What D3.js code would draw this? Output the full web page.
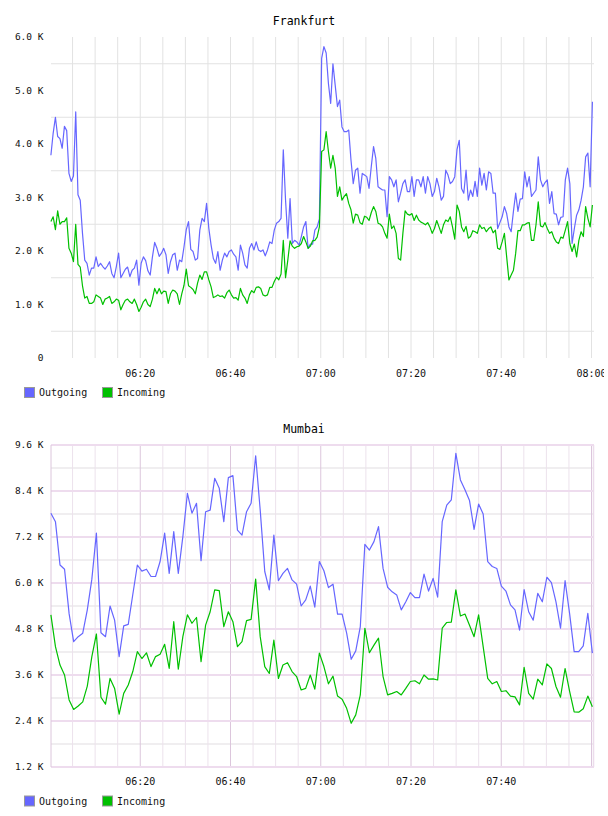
<!DOCTYPE html>
<html>
<head>
<meta charset="utf-8">
<script src="https://cdn.jsdelivr.net/npm/d3@7"></script>
<style>
  body { margin: 0; background: #ffffff; }
  svg text { font-family: 'DejaVu Sans Mono', monospace; fill: #111; }
</style>
</head>
<body>
<div id="graf"></div>
<script>
// !DATOS (valores en miles)
const inicio = new Date(2000, 0, 1, 6, 0, 12)
const series = ['Outgoing', 'Incoming']
const colores = ['#6666ff', '#00c000']

// Frankfurt: una muestra cada 30 s
const pasoFrankfurt = 30
const frankfurtSalida = [
  3.79, 4.2, 4.5, 4.14, 4.1, 3.92, 4.33, 4.25, 3.45, 3.3,
  3.4, 4.6, 3.05, 2.95, 2.33, 1.83, 1.77, 1.55, 1.68, 1.68,
  1.89, 1.71, 1.77, 1.71, 1.66, 1.72, 1.8, 1.58, 1.5, 1.71,
  1.96, 1.5, 1.58, 1.66, 1.7, 1.52, 1.64, 1.68, 1.83, 1.36,
  1.77, 1.89, 1.82, 1.63, 1.55, 1.89, 2.16, 2.05, 1.9, 1.96,
  2.05, 1.93, 1.58, 1.8, 1.93, 1.96, 1.64, 1.83, 1.8, 2.08,
  2.4, 2.55, 2.03, 1.99, 1.83, 1.86, 2.39, 2.61, 2.55, 2.89,
  2.42, 2.11, 1.86, 1.77, 1.99, 1.64, 1.83, 1.96, 1.89, 1.99,
  2.02, 1.94, 1.89, 1.64, 2.11, 1.96, 1.74, 1.68, 2.05, 2.14,
  2.02, 2.17, 2.02, 1.99, 2.02, 1.91, 2.02, 2.17, 2.14, 2.39,
  2.52, 2.55, 2.61, 3.89, 2.95, 2.24, 2.98, 2.14, 2.2, 2.17,
  2.11, 2.27, 2.45, 2.55, 2.05, 2.13, 2.13, 2.39, 2.45, 2.6,
  5.6, 5.82, 5.7, 5.13, 4.76, 5.5, 5.1, 4.7, 4.82, 4.32,
  4.23, 4.23, 4.26, 3.7, 3.26, 3.51, 3.55, 3.08, 3.45, 3.42,
  3.39, 3.17, 3.58, 3.95, 3.73, 3.2, 3.17, 3.14, 3.14, 2.64,
  3.39, 3.33, 3.2, 3.33, 2.92, 3.08, 3.26, 3.33, 3.11, 3.11,
  3.39, 3.02, 3.33, 3.33, 3.2, 3.39, 3.08, 3.39, 3.26, 3.02,
  3.11, 3.36, 3.2, 2.95, 3.02, 3.51, 3.42, 3.26, 3.3, 3.39,
  3.9, 4.07, 3.17, 3.08, 3.51, 2.95, 3.14, 3.02, 3.3, 3.02,
  3.55, 3.23, 3.45, 3.14, 3.48, 3.45, 3.08, 3.08, 2.42, 2.53,
  2.64, 2.83, 2.7, 2.45, 2.36, 2.74, 3.08, 2.74, 2.97, 2.98,
  3.48, 3.2, 3.39, 3.02, 3.08, 3.14, 3.76, 3.33, 3.2, 3.28,
  3.33, 2.89, 3.11, 2.7, 2.69, 2.49, 2.63, 2.64, 3.33, 3.55,
  3.26, 2.14, 2.42, 2.67, 2.77, 2.95, 3.2, 3.76, 3.83, 3.2,
  4.79,
]
const frankfurtEntrada = [
  2.55, 2.64, 2.4, 2.75, 2.5, 2.55, 2.55, 2.62, 2.05, 1.96,
  1.8, 2.5, 1.75, 1.7, 1.35, 1.12, 1.15, 1.02, 1.02, 1.05,
  1.18, 1.15, 1.12, 1.0, 1.1, 1.12, 1.15, 1.02, 1.05, 1.1,
  1.08, 0.9, 1.0, 1.08, 1.1, 1.05, 1.02, 1.1, 1.0, 0.87,
  0.95, 1.05, 1.1, 1.0, 0.96, 1.1, 1.3, 1.2, 1.3, 1.2,
  1.25, 1.24, 1.02, 1.2, 1.27, 1.25, 1.2, 1.0, 1.2, 1.36,
  1.66, 1.35, 1.32, 1.28, 1.2, 1.4, 1.55, 1.47, 1.61, 1.61,
  1.46, 1.33, 1.13, 1.15, 1.18, 1.15, 1.16, 1.12, 1.22, 1.27,
  1.18, 1.12, 1.13, 1.08, 1.3, 1.18, 1.12, 1.02, 1.18, 1.26,
  1.22, 1.32, 1.33, 1.3, 1.18, 1.16, 1.18, 1.32, 1.32, 1.43,
  1.51, 1.46, 1.57, 2.2, 1.5, 1.83, 2.19, 2.09, 2.05, 2.08,
  2.09, 2.14, 2.27, 2.17, 2.05, 2.09, 2.19, 2.2, 2.26, 2.45,
  3.86, 3.89, 4.23, 3.86, 3.55, 3.79, 3.55, 3.02, 3.2, 2.95,
  3.02, 3.07, 2.89, 2.77, 2.52, 2.69, 2.67, 2.53, 2.5, 2.65,
  2.63, 2.57, 2.72, 2.83, 2.74, 2.52, 2.5, 2.45, 2.33, 2.24,
  2.69, 2.42, 2.47, 2.33, 1.86, 1.83, 2.33, 2.75, 2.69, 2.67,
  2.7, 2.57, 2.67, 2.58, 2.54, 2.52, 2.49, 2.53, 2.45, 2.33,
  2.42, 2.57, 2.45, 2.33, 2.49, 2.58, 2.55, 2.64, 2.45, 2.22,
  2.86, 2.74, 2.45, 2.36, 2.46, 2.24, 2.27, 2.38, 2.36, 2.33,
  2.49, 2.42, 2.44, 2.36, 2.42, 2.45, 2.34, 2.39, 2.05, 2.03,
  2.17, 2.33, 1.89, 1.46, 1.55, 1.64, 1.96, 2.38, 2.38, 2.49,
  2.49, 2.52, 2.53, 2.2, 2.2, 2.49, 2.92, 2.47, 2.45, 2.53,
  2.42, 2.33, 2.36, 2.24, 2.17, 2.14, 2.26, 2.24, 2.39, 2.55,
  2.14, 1.99, 2.13, 1.89, 2.2, 2.36, 2.27, 2.83, 2.61, 2.45,
  2.86,
]

// Mumbai: una muestra por minuto (aprox.)
const pasoMumbai = 60.5
const mumbaiSalida = [
  7.82, 7.6, 6.47, 6.36, 5.2, 4.47, 4.6, 4.69, 5.3, 6.1,
  7.3, 4.7, 4.6, 5.4, 5.03, 4.08, 4.88, 4.92, 5.7, 6.47,
  6.31, 6.36, 6.17, 6.17, 6.56, 7.3, 6.25, 7.34, 6.25, 7.21,
  8.34, 7.82, 8.08, 6.58, 7.86, 7.9, 8.73, 8.47, 7.6, 8.75,
  8.8, 7.38, 7.25, 7.86, 8.08, 9.32, 7.9, 6.3, 5.82, 7.25,
  6.06, 6.25, 6.38, 6.08, 5.97, 5.4, 5.56, 5.92, 5.37, 6.56,
  6.32, 5.88, 5.97, 5.19, 5.19, 4.69, 4.01, 4.23, 4.86, 7.01,
  6.86, 7.08, 7.47, 6.38, 5.89, 5.77, 5.69, 5.3, 5.51, 5.75,
  5.62, 5.62, 6.23, 5.79, 6.12, 5.63, 7.6, 8.03, 8.17, 9.38,
  8.69, 8.43, 8.15, 7.4, 8.06, 7.8, 6.56, 6.43, 6.38, 5.92,
  5.79, 5.43, 5.3, 4.77, 5.83, 5.25, 5.03, 5.73, 5.51, 6.15,
  6.01, 5.51, 4.82, 6.06, 5.2, 4.21, 4.21, 4.36, 5.21, 4.17,
]
const mumbaiEntrada = [
  5.17, 4.34, 3.86, 3.6, 2.95, 2.7, 2.79, 2.9, 3.31, 4.08,
  4.67, 3.02, 2.84, 3.51, 3.25, 2.58, 3.12, 3.34, 3.69, 4.21,
  4.03, 4.18, 3.82, 4.08, 4.14, 4.4, 3.77, 4.99, 3.75, 4.6,
  5.17, 4.95, 5.1, 3.95, 4.9, 5.25, 5.82, 5.8, 4.86, 5.25,
  4.99, 4.34, 4.47, 5.02, 5.05, 6.1, 4.6, 3.82, 3.64, 4.51,
  3.51, 3.86, 3.92, 3.69, 3.56, 3.21, 3.25, 3.6, 3.23, 4.17,
  3.82, 3.37, 3.57, 3.05, 2.97, 2.73, 2.34, 2.56, 3.08, 4.82,
  4.18, 4.38, 4.56, 3.56, 3.08, 3.12, 3.17, 3.08, 3.25, 3.43,
  3.45, 3.37, 3.6, 3.49, 3.5, 3.47, 4.82, 4.97, 4.98, 5.82,
  5.14, 5.19, 4.9, 4.6, 5.17, 4.34, 3.51, 3.37, 3.43, 3.17,
  3.19, 3.05, 3.03, 2.82, 3.8, 3.12, 2.97, 3.49, 3.34, 3.89,
  3.77, 3.3, 3.02, 3.77, 3.17, 2.64, 2.63, 2.72, 3.05, 2.77,
]

// !EJES
const ticksFrankfurt = [0, 1, 2, 3, 4, 5, 6]
const rejillaFrankfurt = [0.5, 1.5, 2.5, 3.5, 4.5, 5.5]
const ticksMumbai = [1.2, 2.4, 3.6, 4.8, 6.0, 7.2, 8.4, 9.6]
const rejillaMumbai = [1.8, 3.0, 4.2, 5.4, 6.6, 7.8, 9.0]
const horasFrankfurt = ['06:20', '06:40', '07:00', '07:20', '07:40', '08:00']
const horasMumbai = ['06:20', '06:40', '07:00', '07:20', '07:40']

const anchoTotal = 604
const altoTotal = 816

const svg = d3
  .select('#graf')
  .append('svg')
  .attr('width', anchoTotal)
  .attr('height', altoTotal)

const dia = (h, m, s = 0) => new Date(2000, 0, 1, h, m, s)
const parseHora = d3.timeParse('%H:%M')
const aDia = (txt) => {
  const d = parseHora(txt)
  return dia(d.getHours(), d.getMinutes())
}

// !ESCALADOR X (compartido)
const x = d3.scaleTime().domain([dia(6, 0), dia(8, 0)]).range([50, 591.5])
const cincoMin = d3.timeMinute.every(5).range(dia(6, 5), dia(8, 0, 1))

const izq = 51
const der = 594

function puntos(valores, paso) {
  return valores.map((v, i) => ({
    t: new Date(inicio.getTime() + i * paso * 1000),
    v: v,
  }))
}

function dibujaPanel(p) {
  const y = d3.scaleLinear().domain(p.dominio).range([p.abajo, p.arriba])
  const g = svg.append('g')

  // !TITULO
  g.append('text')
    .attr('x', 304)
    .attr('y', p.tituloY)
    .attr('text-anchor', 'middle')
    .style('font-size', '11.5px')
    .style('fill', '#000')
    .text(p.titulo)

  // !REJILLA
  g.selectAll('.hmenor')
    .data(p.rejilla)
    .join('line')
    .attr('x1', izq)
    .attr('x2', der)
    .attr('y1', (d) => y(d))
    .attr('y2', (d) => y(d))
    .attr('stroke', p.rosa ? '#f0eef0' : '#e2e2e2')
    .attr('stroke-width', p.rosa ? 2 : 1)

  g.selectAll('.vlin')
    .data(cincoMin)
    .join('line')
    .attr('x1', (d) => x(d))
    .attr('x2', (d) => x(d))
    .attr('y1', p.arriba)
    .attr('y2', p.abajo)
    .attr('stroke', (d) => {
      if (!p.rosa) return '#e2e2e2'
      return d.getMinutes() % 20 === 0 ? '#dcc6dc' : '#ece2ec'
    })
    .attr('stroke-width', 1)

  if (p.rosa) {
    g.selectAll('.hmayor')
      .data(p.ticks)
      .join('line')
      .attr('x1', izq)
      .attr('x2', der)
      .attr('y1', (d) => y(d))
      .attr('y2', (d) => y(d))
      .attr('stroke', '#eedcee')
      .attr('stroke-width', 2)

    g.append('line')
      .attr('x1', izq)
      .attr('x2', izq)
      .attr('y1', p.arriba)
      .attr('y2', p.abajo)
      .attr('stroke', '#dcc6dc')
    g.append('line')
      .attr('x1', der - 0.5)
      .attr('x2', der - 0.5)
      .attr('y1', p.arriba)
      .attr('y2', p.abajo)
      .attr('stroke', '#ecdcec')
      .attr('stroke-width', 1.5)
  }

  // !ETIQUETAS Y
  g.selectAll('.ety')
    .data(p.ticks)
    .join('text')
    .attr('x', 43.5)
    .attr('y', (d) => y(d))
    .attr('dy', '0.35em')
    .attr('text-anchor', 'end')
    .style('font-size', '9.5px')
    .text((d) => (d === 0 ? '0' : d3.format('.1f')(d) + ' K'))

  // !ETIQUETAS X
  g.selectAll('.etx')
    .data(p.horas)
    .join('text')
    .attr('x', (d) => x(aDia(d)))
    .attr('y', p.etxY)
    .attr('text-anchor', 'middle')
    .style('font-size', '10px')
    .text((d) => d)

  // !LINEAS
  const linea = d3
    .line()
    .x((d) => x(d.t))
    .y((d) => y(d.v))

  p.datos.forEach((datos, i) => {
    g.append('path')
      .datum(puntos(datos, p.paso))
      .attr('d', linea)
      .attr('fill', 'none')
      .attr('stroke', colores[i])
      .attr('stroke-width', 1.2)
      .attr('stroke-linejoin', 'round')
  })

  // !LEYENDA
  const ley = g
    .selectAll('.ley')
    .data(series)
    .join('g')
    .attr('transform', (d, i) => `translate(${[24.5, 102.5][i]}, ${p.leyY})`)

  ley
    .append('rect')
    .attr('width', 10)
    .attr('height', 10)
    .attr('fill', (d, i) => colores[i])
    .attr('stroke', '#999')

  ley
    .append('text')
    .attr('x', 14.5)
    .attr('y', 8.5)
    .style('font-size', '10px')
    .text((d) => d)
}

dibujaPanel({
  titulo: 'Frankfurt',
  tituloY: 25,
  dominio: [0, 6],
  arriba: 37,
  abajo: 358,
  ticks: ticksFrankfurt,
  rejilla: rejillaFrankfurt,
  horas: horasFrankfurt,
  etxY: 377,
  leyY: 387.5,
  paso: pasoFrankfurt,
  datos: [frankfurtSalida, frankfurtEntrada],
  rosa: false,
})

dibujaPanel({
  titulo: 'Mumbai',
  tituloY: 433,
  dominio: [1.2, 9.6],
  arriba: 445,
  abajo: 767,
  ticks: ticksMumbai,
  rejilla: rejillaMumbai,
  horas: horasMumbai,
  etxY: 785,
  leyY: 796,
  paso: pasoMumbai,
  datos: [mumbaiSalida, mumbaiEntrada],
  rosa: true,
})
</script>
</body>
</html>
